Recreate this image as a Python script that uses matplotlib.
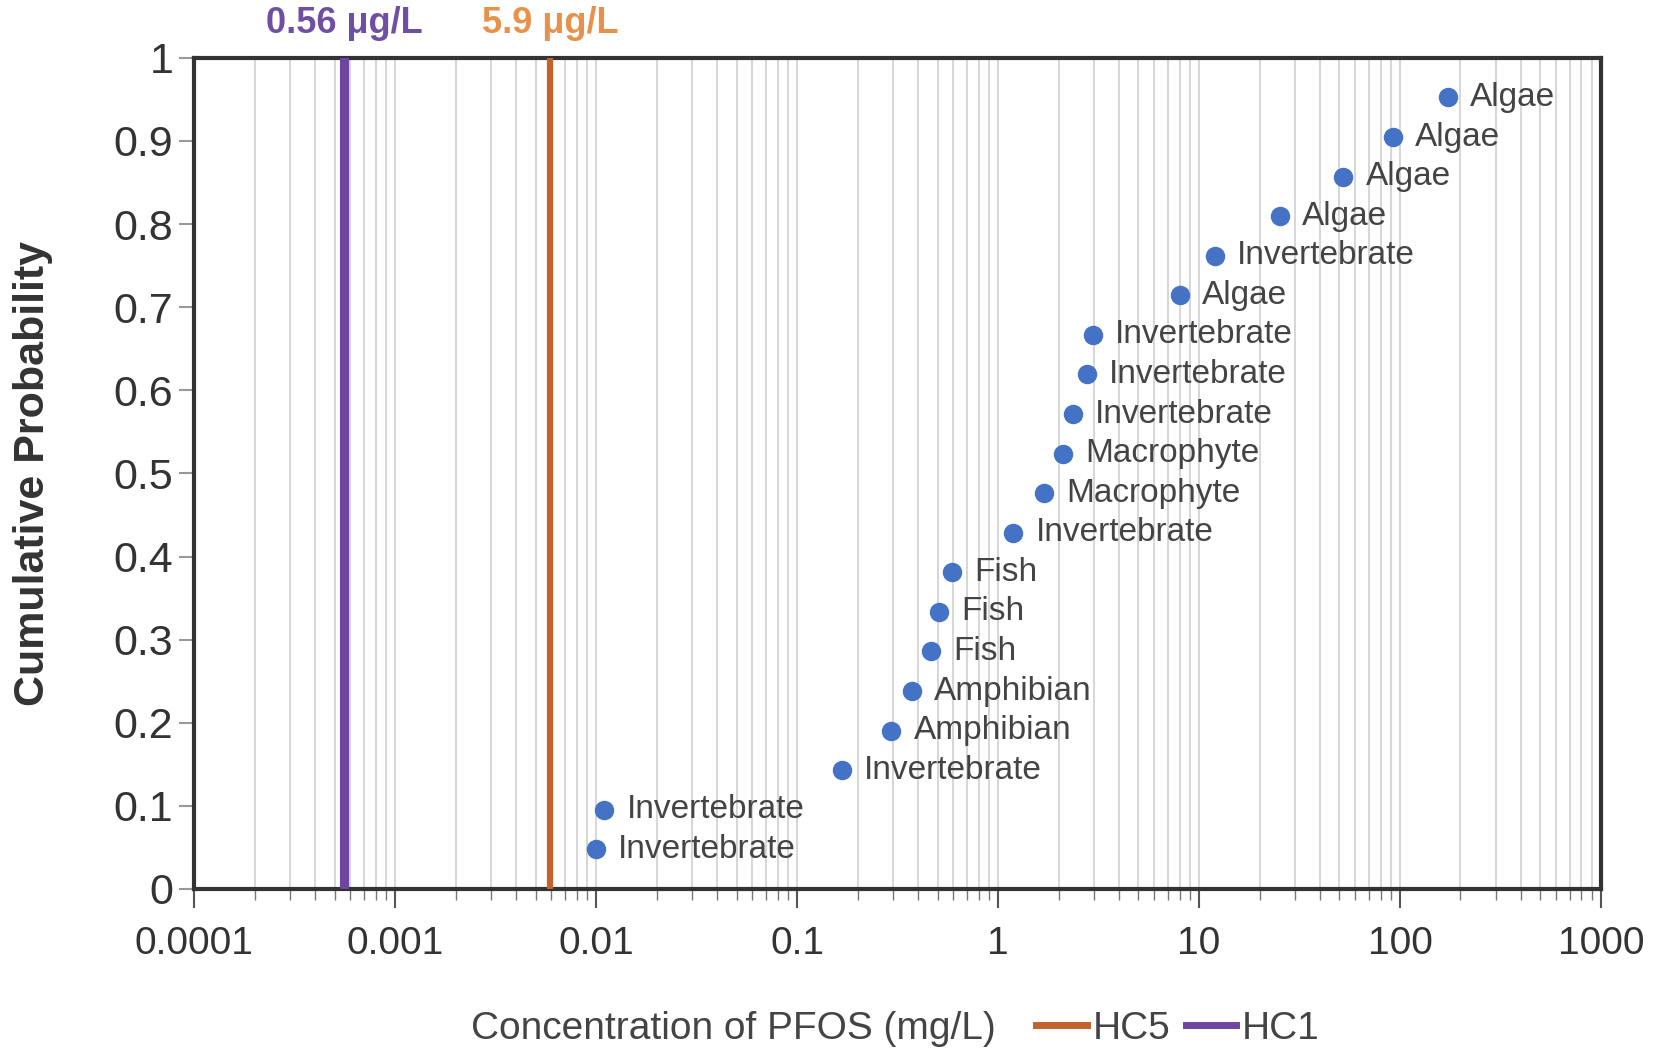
import matplotlib.pyplot as plt
from matplotlib.lines import Line2D
from matplotlib.ticker import LogLocator, NullFormatter, FixedLocator

# species sensitivity data (mg/L)
concentrations = [0.0100, 0.0110, 0.167, 0.295, 0.372, 0.463, 0.51, 0.59, 1.19, 1.70,
                  2.11, 2.36, 2.76, 2.97, 8.04, 12.0, 25.2, 52.2, 92.3, 173.0]
groups = ['Invertebrate', 'Invertebrate', 'Invertebrate', 'Amphibian', 'Amphibian',
          'Fish', 'Fish', 'Fish', 'Invertebrate', 'Macrophyte', 'Macrophyte',
          'Invertebrate', 'Invertebrate', 'Invertebrate', 'Algae', 'Invertebrate',
          'Algae', 'Algae', 'Algae', 'Algae']
n = len(concentrations)
probabilities = [(i + 1) / (n + 1) for i in range(n)]

hc_names = ['HC5', 'HC1']
hc_values = [0.0059, 0.00056]          # mg/L
hc_labels = ['5.9 \u03bcg/L', '0.56 \u03bcg/L']
hc_colors = ['#c4622d', '#6e45a0']
hc_text_colors = ['#e8914a', '#6e4fa3']
hc_widths = [4.5, 6.5]

y_ticks = [0, 0.1, 0.2, 0.3, 0.4, 0.5, 0.6, 0.7, 0.8, 0.9, 1.0]
y_ticklabels = ['0', '0.1', '0.2', '0.3', '0.4', '0.5', '0.6', '0.7', '0.8', '0.9', '1']
x_ticks = [0.0001, 0.001, 0.01, 0.1, 1, 10, 100, 1000]
x_ticklabels = ['0.0001', '0.001', '0.01', '0.1', '1', '10', '100', '1000']

fam = ['Liberation Sans', 'DejaVu Sans']

fig = plt.figure(figsize=(16.63, 10.52), dpi=100)
ax = fig.add_axes([0.1167, 0.155, 0.846, 0.790])

ax.set_xscale('log')
ax.set_xlim(0.0001, 1000)
ax.set_ylim(0, 1)

# vertical grid at every decade step
ax.xaxis.set_major_locator(FixedLocator(x_ticks))
ax.xaxis.set_minor_locator(LogLocator(base=10, subs=range(2, 10), numticks=50))
ax.xaxis.set_minor_formatter(NullFormatter())
ax.grid(True, which='both', axis='x', color='#d6d6d6', linewidth=1.4)
ax.set_axisbelow(True)

for val, col, lw in zip(hc_values, hc_colors, hc_widths):
    ax.axvline(val, color=col, linewidth=lw, zorder=3)

ax.plot(concentrations, probabilities, 'o', color='#4472c4', markersize=13,
        linestyle='none', zorder=4)
for x, y, g in zip(concentrations, probabilities, groups):
    ax.annotate(g, (x, y), xytext=(16, 0), textcoords='offset points',
                va='center', ha='left', fontsize=24, color='#444444',
                family=fam, zorder=5)

for val, lab, col in zip(hc_values, hc_labels, hc_text_colors):
    ax.annotate(lab, (val, 1), xytext=(0, 25), textcoords='offset points',
                ha='center', va='center', fontsize=26, fontweight='bold',
                color=col, family=fam, annotation_clip=False)

ax.set_yticks(y_ticks)
ax.set_yticklabels(y_ticklabels, fontsize=31, color='#333333', family=fam)
ax.set_xticklabels(x_ticklabels, fontsize=28, color='#333333', family=fam)
ax.tick_params(axis='y', length=11, width=1.5, color='#999999', pad=4)
ax.tick_params(axis='x', which='major', length=14, width=1.5, color='#555555', pad=13)
ax.tick_params(axis='x', which='minor', length=8, width=1.0, color='#777777')

for side in ['left', 'right', 'top', 'bottom']:
    ax.spines[side].set_linewidth(3)
    ax.spines[side].set_color('#333333')

ax.set_ylabel('Cumulative Probability', fontsize=31, fontweight='bold',
              color='#333333', family=fam)
ax.yaxis.set_label_coords(-0.100, 0.5)

# x label sits on the same row as the legend
fig.text(0.441, 0.022, 'Concentration of PFOS (mg/L)', fontsize=28,
         color='#444444', family=fam, ha='center', va='center')
handles = [Line2D([0], [0], color=c, linewidth=5) for c in hc_colors]
leg = fig.legend(handles, hc_names, loc='center left', bbox_to_anchor=(0.602, 0.022),
                 ncol=2, frameon=False, handlelength=1.3,
                 handletextpad=0.15, columnspacing=0.4,
                 prop={'family': fam, 'size': 28})
for t in leg.get_texts():
    t.set_color('#444444')

fig.savefig('out.png', dpi=100)
